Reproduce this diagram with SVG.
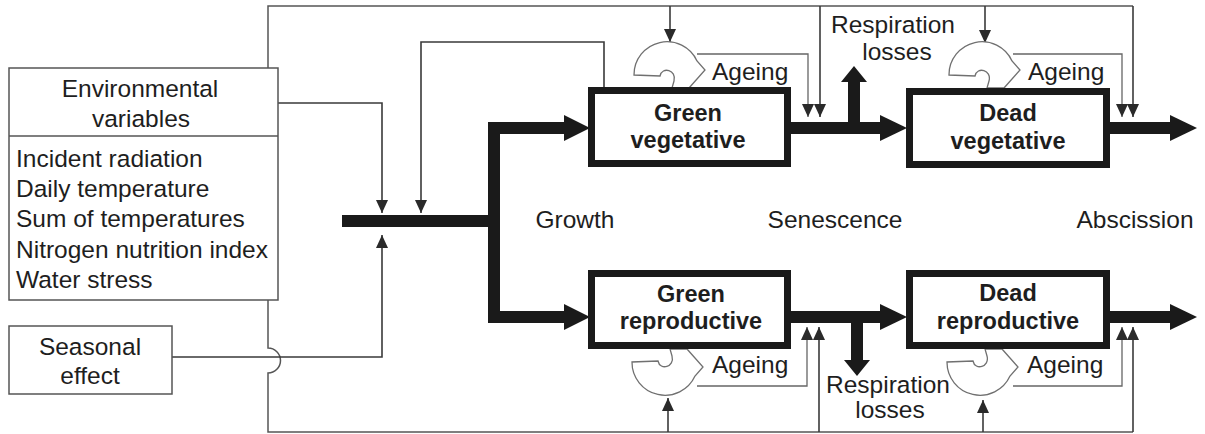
<svg xmlns="http://www.w3.org/2000/svg" width="1205" height="434" viewBox="0 0 1205 434">
<style>
text{font-family:"Liberation Sans",Arial,sans-serif;font-size:24.5px;fill:#1e1e1e}
.b{font-weight:bold;font-size:23.5px}
.m{text-anchor:middle}
.thin{fill:none;stroke:#3a3a3a;stroke-width:1.6}
.loop{fill:none;stroke:#555;stroke-width:1.5}
.ag{fill:none;stroke:#666;stroke-width:1.3}
.flow{fill:none;stroke:#1a1a1a;stroke-width:12;stroke-linejoin:miter}
.head{fill:#1a1a1a}
.box{fill:#fff;stroke:#1a1a1a;stroke-width:7}
.env{fill:#fff;stroke:#555;stroke-width:1.5}
.age{fill:#fff;stroke:#707070;stroke-width:1.3;stroke-linejoin:miter}
</style>
<defs>
<marker id="ah" markerUnits="userSpaceOnUse" markerWidth="14" markerHeight="12" refX="13" refY="6" orient="auto">
<path d="M0,0 L13,6 L0,12 Z" fill="#2a2a2a"/>
</marker>
<path id="age" class="age" d="M634,75 A33,33 0 0 1 697,61 L705,70 L689,88 L672,88 L674,81 C677,70 662,66 660,76 L634,75 Z"/>
</defs>

<g id="connectors">
<path class="loop" d="M1133,6 H268 V348 A12.5,12.5 0 0 1 268,373 V432 H1133"/>
<path class="thin" marker-end="url(#ah)" d="M670,6 V42"/>
<path class="thin" marker-end="url(#ah)" d="M820,6 V117"/>
<path class="thin" marker-end="url(#ah)" d="M985,6 V43"/>
<path class="thin" marker-end="url(#ah)" d="M1133,6 V117"/>
<path class="thin" marker-end="url(#ah)" d="M668,432 V398"/>
<path class="thin" marker-end="url(#ah)" d="M819,432 V327"/>
<path class="thin" marker-end="url(#ah)" d="M983,432 V400"/>
<path class="thin" marker-end="url(#ah)" d="M1133,432 V327"/>
<path class="thin" marker-end="url(#ah)" d="M278,103 H382 V213"/>
<path class="thin" marker-end="url(#ah)" d="M172,357 H382 V235"/>
<path class="thin" marker-end="url(#ah)" d="M604,88 V42 H421 V213"/>
<path class="ag" marker-end="url(#ah)" d="M697,54 H808 V117"/>
<path class="ag" marker-end="url(#ah)" d="M1013,54 H1122 V117"/>
<path class="ag" marker-end="url(#ah)" d="M697,386 H807 V327"/>
<path class="ag" marker-end="url(#ah)" d="M1013,386 H1122 V327"/>
<path class="flow" stroke-width="13" d="M342,221 H494"/>
<path class="flow" d="M566,128 H494 V317 H566"/>
<polygon class="head" points="564,115 590,128 564,141"/>
<polygon class="head" points="564,304 590,317 564,330"/>
<path class="flow" d="M788,128 H882"/>
<polygon class="head" points="880,115 907,128 880,141"/>
<path class="flow" d="M788,317 H882"/>
<polygon class="head" points="880,304 907,317 880,330"/>
<path class="flow" d="M1107,128 H1172"/>
<polygon class="head" points="1170,115 1197,128 1170,141"/>
<path class="flow" d="M1107,317 H1172"/>
<polygon class="head" points="1170,304 1197,317 1170,330"/>
<path class="flow" stroke-width="10" d="M854,128 V80"/>
<polygon class="head" points="841,82 854,66 867,82"/>
<path class="flow" stroke-width="10" d="M857,317 V362"/>
<polygon class="head" points="844,360 857,376 870,360"/>
</g>

<g id="ageing-green-veg"><use href="#age"/><text x="712" y="80">Ageing</text></g>
<g id="ageing-dead-veg"><use href="#age" transform="translate(315,0)"/><text x="1028" y="80">Ageing</text></g>
<g id="ageing-green-rep"><use href="#age" transform="translate(-2,437) scale(1,-1)"/><text x="712" y="373">Ageing</text></g>
<g id="ageing-dead-rep"><use href="#age" transform="translate(313,437) scale(1,-1)"/><text x="1027" y="373">Ageing</text></g>

<g id="env">
<rect class="env" x="9" y="68" width="269" height="232"/>
<line class="env" x1="9" y1="136" x2="278" y2="136"/>
<text class="m" x="140" y="97">Environmental</text>
<text class="m" x="141" y="127">variables</text>
<text x="16" y="167">Incident radiation</text>
<text x="16" y="197">Daily temperature</text>
<text x="16" y="227">Sum of temperatures</text>
<text x="16" y="258">Nitrogen nutrition index</text>
<text x="16" y="288">Water stress</text>
</g>

<g id="seasonal">
<rect class="env" x="9" y="326" width="163" height="68"/>
<text class="m" x="90" y="355">Seasonal</text>
<text class="m" x="90" y="384">effect</text>
</g>

<g id="green-veg">
<rect class="box" x="591.5" y="90.5" width="196" height="73"/>
<text class="b m" x="688" y="121">Green</text>
<text class="b m" x="688" y="148">vegetative</text>
</g>
<g id="dead-veg">
<rect class="box" x="909.5" y="91.5" width="197" height="73"/>
<text class="b m" x="1008" y="121">Dead</text>
<text class="b m" x="1008" y="149">vegetative</text>
</g>
<g id="green-rep">
<rect class="box" x="591.5" y="273.5" width="196" height="72"/>
<text class="b m" x="691" y="302">Green</text>
<text class="b m" x="691" y="329">reproductive</text>
</g>
<g id="dead-rep">
<rect class="box" x="909.5" y="273.5" width="197" height="72"/>
<text class="b m" x="1008" y="301">Dead</text>
<text class="b m" x="1008" y="329">reproductive</text>
</g>

<g id="labels">
<text class="m" x="575" y="228">Growth</text>
<text class="m" x="835" y="228">Senescence</text>
<text class="m" x="1135" y="228">Abscission</text>
<text class="m" x="893" y="33">Respiration</text>
<text class="m" x="897" y="60">losses</text>
<text class="m" x="888" y="393">Respiration</text>
<text class="m" x="890" y="418">losses</text>
</g>
</svg>
